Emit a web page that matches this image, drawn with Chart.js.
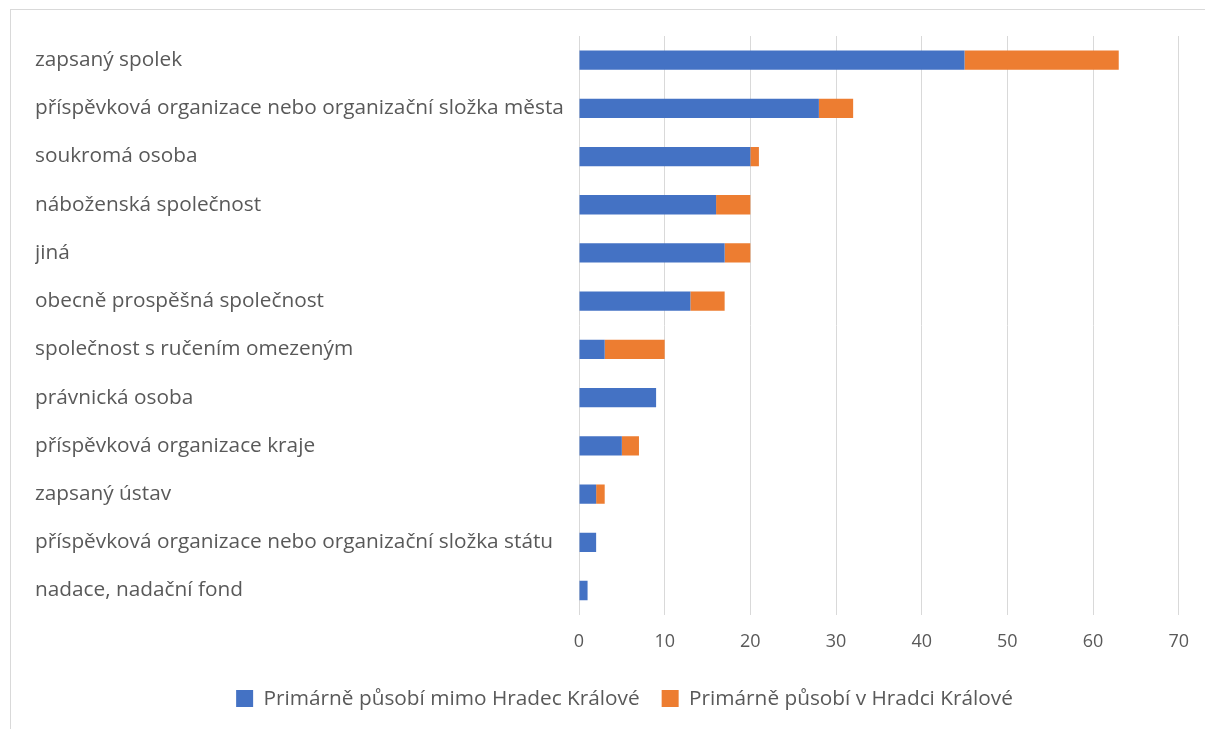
<!DOCTYPE html>
<html>
<head>
<meta charset="utf-8">
<script src="https://cdn.jsdelivr.net/npm/chart.js@4"></script>
<style>
  html, body { margin: 0; padding: 0; background: #fff; }
  #wrap { position: absolute; left: 0; top: 0; width: 1205px; height: 729px; }
  #frame { position: absolute; left: 10px; top: 9px; width: 1200px; height: 730px; border-top: 1px solid #d9d9d9; border-left: 1px solid #d9d9d9; }
  canvas { position: absolute; left: 0; top: 0; }
</style>
</head>
<body>
<div id="wrap">
  <div id="frame"></div>
  <canvas id="c" width="1205" height="729"></canvas>
</div>
<script>
const categories = [
  "zapsaný spolek",
  "příspěvková organizace nebo organizační složka města",
  "soukromá osoba",
  "náboženská společnost",
  "jiná",
  "obecně prospěšná společnost",
  "společnost s ručením omezeným",
  "právnická osoba",
  "příspěvková organizace kraje",
  "zapsaný ústav",
  "příspěvková organizace nebo organizační složka státu",
  "nadace, nadační fond"
];
const outsideHK = [45, 28, 20, 16, 17, 13, 3, 9, 5, 2, 2, 1];
const insideHK  = [18, 4, 1, 4, 3, 4, 7, 0, 2, 1, 0, 0];
const seriesNames = ["Primárně působí mimo Hradec Králové", "Primárně působí v Hradci Králové"];
const xTicks = [0, 10, 20, 30, 40, 50, 60, 70];

const fontFamily = "'Open Sans', 'Noto Sans', sans-serif";
const textColor = "#595959";

const legendShift = {
  id: "legendShift",
  afterLayout(chart) {
    if (chart.legend) {
      chart.legend.left += 17; chart.legend.right += 17;
      chart.legend.top -= 2; chart.legend.bottom -= 2;
    }
  }
};

new Chart(document.getElementById("c"), {
  type: "bar",
  data: {
    labels: categories,
    datasets: [
      { label: seriesNames[0], data: outsideHK, backgroundColor: "#4472C4", categoryPercentage: 0.8, barPercentage: 0.5 },
      { label: seriesNames[1], data: insideHK, backgroundColor: "#ED7D31", categoryPercentage: 0.8, barPercentage: 0.5 }
    ]
  },
  options: {
    indexAxis: "y",
    responsive: false,
    animation: false,
    layout: { padding: { left: 35, right: 25, top: 36, bottom: 8 } },
    plugins: {
      legend: {
        position: "bottom",
        labels: {
          color: textColor,
          font: { family: fontFamily, size: 20.8 },
          boxWidth: 17, boxHeight: 17, padding: 22
        }
      },
      tooltip: { enabled: false }
    },
    scales: {
      x: {
        stacked: true,
        min: 0, max: 70,
        afterBuildTicks: (s) => { s.ticks = xTicks.map(v => ({ value: v })); },
        grid: { color: "#d9d9d9", lineWidth: 1, drawTicks: false },
        border: { display: false },
        ticks: { color: textColor, font: { family: fontFamily, size: 18 }, padding: 16 }
      },
      y: {
        stacked: true,
        grid: { display: false },
        border: { display: false },
        afterFit: (s) => { s.width = 544; },
        ticks: { color: textColor, font: { family: fontFamily, size: 20.8 }, crossAlign: "far", autoSkip: false }
      }
    }
  },
  plugins: [legendShift]
});
</script>
</body>
</html>
